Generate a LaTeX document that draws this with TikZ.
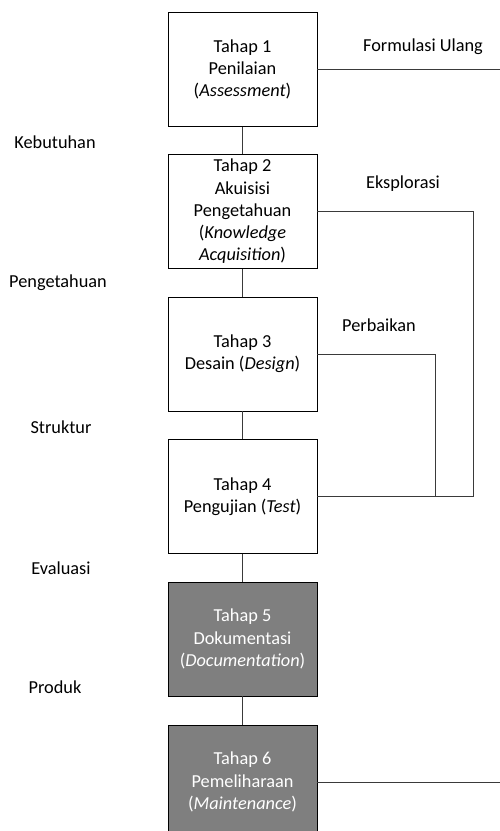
\documentclass[tikz,border=0pt]{standalone}
\usepackage{fontspec}
\setmainfont{Carlito}
\definecolor{stagegray}{HTML}{7F7F7F}
\definecolor{linkgray}{HTML}{3A3A3A}
\begin{document}
\begin{tikzpicture}[x=1pt,y=-1pt,
  txt/.style={font=\fontsize{18.3}{22.3}\selectfont},
  stage/.style={txt, draw=black, line width=0.9pt, minimum width=149pt,
    minimum height=114pt, align=center, inner sep=0pt},
  lightstage/.style={stage, fill=white},
  darkstage/.style={stage, fill=stagegray, text=white},
  lbl/.style={txt, inner sep=0pt},
  link/.style={line width=0.9pt, draw=linkgray}]
\useasboundingbox (0,0) rectangle (500,831);
\clip (0,0) rectangle (500,831);

% the six stages
\node[lightstage] (t1) at (242.5,69.5) {Tahap 1\\Penilaian\\(\textit{Assessment})};
\node[lightstage] (t2) at (242.5,211.5) {Tahap 2\\Akuisisi\\Pengetahuan\\(\textit{Knowledge}\\\textit{Acquisition})};
\node[lightstage] (t3) at (242.5,354) {Tahap 3\\Desain (\textit{Design})};
\node[lightstage] (t4) at (242.5,496.5) {Tahap 4\\Pengujian (\textit{Test})};
\node[darkstage] (t5) at (242.5,639) {Tahap 5\\Dokumentasi\\(\textit{Documentation})};
\node[darkstage] (t6) at (242.5,782) {Tahap 6\\Pemeliharaan\\(\textit{Maintenance})};

% loose ends and corners of the feedback lines
\coordinate (e1) at (500,69.5);
\coordinate (c2) at (473,496.5);
\coordinate (c3) at (435,496.5);
\coordinate (e6) at (500,782);

% vertical chain
\draw[link] (t1.south) -- (t2.north);
\draw[link] (t2.south) -- (t3.north);
\draw[link] (t3.south) -- (t4.north);
\draw[link] (t4.south) -- (t5.north);
\draw[link] (t5.south) -- (t6.north);

% feedback lines
\draw[link] (t1.east) -- (e1);
\draw[link] (t2.east) -| (c2) -- (t4.east);
\draw[link] (t3.east) -| (c3);
\draw[link] (t6.east) -- (e6);

% line labels
\node[lbl] (lf) at (423,47) {Formulasi Ulang};
\node[lbl] (le) at (403,184) {Eksplorasi};
\node[lbl] (lp) at (379,325) {Perbaikan};

% outputs between stages
\node[lbl] (o1) at (55,142) {Kebutuhan};
\node[lbl] (o2) at (58,283) {Pengetahuan};
\node[lbl] (o3) at (61,427) {Struktur};
\node[lbl] (o4) at (61,568) {Evaluasi};
\node[lbl] (o5) at (55,687) {Produk};
\end{tikzpicture}
\end{document}
